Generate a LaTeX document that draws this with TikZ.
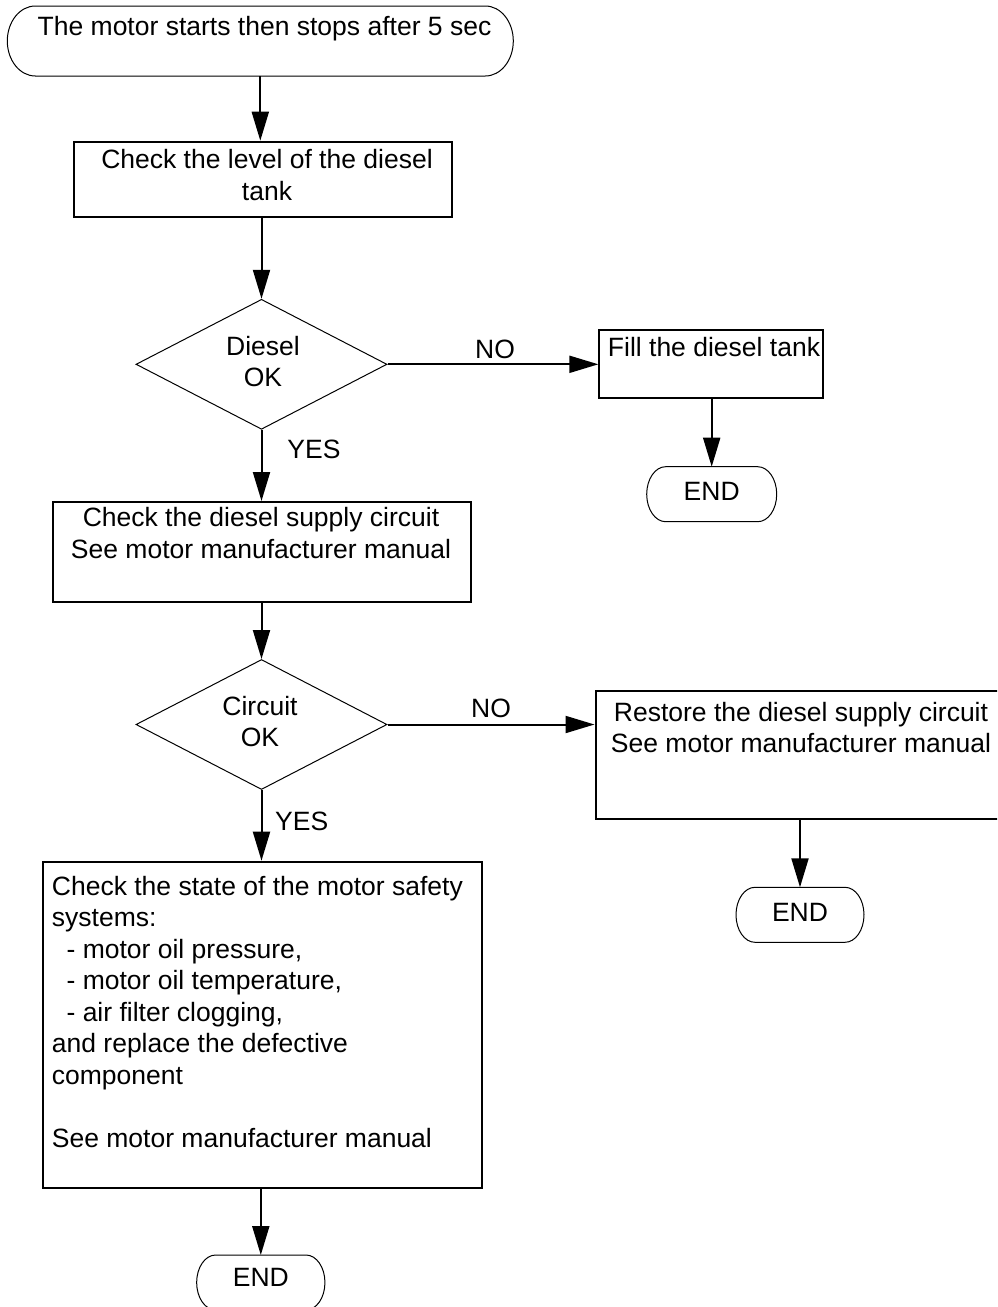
\documentclass[tikz,border=0pt]{standalone}
\usepackage{fontspec}
\setmainfont{Liberation Sans}
\usetikzlibrary{arrows.meta,shapes.geometric}
\newcommand\termoutline[3]{%
  \draw[termline] ([xshift=#2]#1.north west) -- ([xshift=-#2]#1.north east)
    arc[start angle=90,end angle=-90,x radius=#2,y radius=#3]
    -- ([xshift=#2]#1.south west)
    arc[start angle=270,end angle=90,x radius=#2,y radius=#3] -- cycle;}
\begin{document}
\begin{tikzpicture}[x=1pt,y=-1pt,
  txt/.style={inner sep=0pt, font=\fontsize{26.5pt}{31.5pt}\selectfont, align=center, anchor=north},
  lbl/.style={inner sep=0pt, font=\fontsize{26.5pt}{31.5pt}\selectfont, anchor=base},
  boxnode/.style={draw, line width=2pt, rectangle, inner sep=0pt},
  decision/.style={draw, line width=1pt, diamond, inner sep=0pt, minimum width=251pt, minimum height=130pt},
  terminal/.style={rectangle, inner sep=0pt, outer sep=0pt, minimum height=55pt},
  termline/.style={line width=1pt},
  arr/.style={line width=2pt, -{Triangle[length=29pt,width=17pt]}}]
\useasboundingbox (0,0) rectangle (997,1307);
\clip (0,0) rectangle (997,1307);
% shapes
\node[terminal, minimum width=506pt, minimum height=70pt] (start) at (260.3,41) {};
\termoutline{start}{28pt}{35pt}
\node[boxnode, minimum width=378.3pt, minimum height=75pt] (box1) at (263.2,179.2) {};
\node[decision] (d1) at (261.5,364.3) {};
\node[boxnode, minimum width=223.7pt, minimum height=67.7pt] (fill) at (711.2,364) {};
\node[terminal, minimum width=130pt] (end1) at (711.7,494.2) {};
\termoutline{end1}{19pt}{27.5pt}
\node[boxnode, minimum width=417.7pt, minimum height=100pt] (box2) at (262.2,552) {};
\node[decision] (d2) at (261.5,724.5) {};
\node[boxnode, minimum width=409.5pt, minimum height=128.6pt] (restore) at (800.25,755) {};
\node[terminal, minimum width=128pt] (end2) at (800,914.8) {};
\termoutline{end2}{19pt}{27.5pt}
\node[boxnode, minimum width=438.4pt, minimum height=326pt] (box3) at (262.5,1024.7) {};
\node[terminal, minimum width=128.3pt] (end3) at (260.8,1282.5) {};
\termoutline{end3}{19pt}{27.5pt}
% texts
\node[txt] (tstart) at (264.5,12.95) {\strut The motor starts then stops after 5 sec};
\node[txt] (tbox1) at (267,146.25) {\strut Check the level of the diesel\\tank};
\node[txt] (td1) at (263,332.95) {\strut Diesel\\OK};
\node[txt] (tfill) at (714,334.65) {\strut Fill the diesel tank};
\node[lbl] (tend1) at (711.7,500) {END};
\node[txt] (tbox2) at (261,504.65) {\strut Check the diesel supply circuit\\See motor manufacturer manual};
\node[txt] (td2) at (260,692.95) {\strut Circuit\\OK};
\node[txt] (trestore) at (801,698.95) {\strut Restore the diesel supply circuit\\See motor manufacturer manual};
\node[lbl] (tend2) at (800,921.7) {END};
\node[txt, anchor=north west, align=left] (tbox3) at (51.7,872.95) {\strut Check the state of the motor safety\\systems:\\\hspace*{14.7pt}- motor oil pressure,\\\hspace*{14.7pt}- motor oil temperature,\\\hspace*{14.7pt}- air filter clogging,\\and replace the defective\\component\\\strut\\See motor manufacturer manual};
\node[lbl] (tend3) at (260.8,1286.7) {END};
\node[lbl] (no1) at (495,358.5) {NO};
\node[lbl] (no2) at (491,717.3) {NO};
\node[lbl] (yes1) at (314,458) {YES};
\node[lbl] (yes2) at (301.7,830) {YES};
% connectors
\draw[arr] (start.south) -- (start.south |- box1.north);
\draw[arr] (box1.south -| d1.north) -- (d1.north);
\draw[arr] (d1.south) -- (d1.south |- box2.north);
\draw[arr] (box2.south -| d2.north) -- (d2.north);
\draw[arr] (d2.south) -- (d2.south |- box3.north);
\draw[arr] (box3.south -| end3.north) -- (end3.north);
\draw[arr] (d1.east) -- (d1.east -| fill.west);
\draw[arr] (fill.south -| end1.north) -- (end1.north);
\draw[arr] (d2.east) -- (d2.east -| restore.west);
\draw[arr] (restore.south -| end2.north) -- (end2.north);
\end{tikzpicture}
\end{document}
